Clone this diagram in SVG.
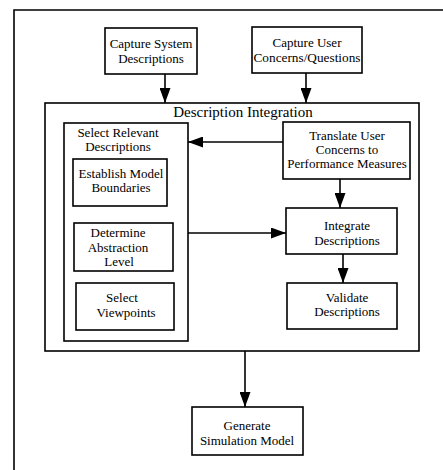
<svg xmlns="http://www.w3.org/2000/svg" width="443" height="470" viewBox="0 0 443 470">
  <defs>
    <style>
      .box { fill: #fff; stroke: #000; stroke-width: 1.6; }
      .frame { fill: none; stroke: #000; stroke-width: 1.6; }
      .t { font-family: "Liberation Serif", "Times New Roman", serif; font-size: 13px; fill: #000; text-anchor: middle; }
      .title { font-family: "Liberation Serif", "Times New Roman", serif; font-size: 15px; fill: #000; text-anchor: middle; }
      .conn { fill: none; stroke: #000; stroke-width: 1.6; marker-end: url(#arrow); }
    </style>
    <marker id="arrow" markerUnits="userSpaceOnUse" markerWidth="15" markerHeight="11" refX="15" refY="5.5" orient="auto">
      <path d="M0,0 L15,5.5 L0,11 z" fill="#000"/>
    </marker>
  </defs>
  <rect width="443" height="470" fill="#fff"/>
  <path class="frame" d="M14,470 L14,10 L443,10"/>

  <g id="capture-system">
    <rect class="box" x="105" y="28" width="92" height="46"/>
    <text class="t" x="151" y="48">Capture System</text>
    <text class="t" x="151" y="63">Descriptions</text>
  </g>
  <g id="capture-user">
    <rect class="box" x="252" y="27" width="110" height="46"/>
    <text class="t" x="307" y="47">Capture User</text>
    <text class="t" x="307" y="62" textLength="107" lengthAdjust="spacingAndGlyphs">Concerns/Questions</text>
  </g>
  <g id="description-integration">
    <rect class="box" x="45" y="103" width="374" height="248"/>
    <text class="title" x="243" y="117">Description Integration</text>
  </g>
  <g id="select-relevant">
    <rect class="box" x="64" y="123" width="124" height="218"/>
    <text class="t" x="118" y="137">Select Relevant</text>
    <text class="t" x="118" y="151">Descriptions</text>
  </g>
  <g id="establish-boundaries">
    <rect class="box" x="73" y="159" width="94" height="47"/>
    <text class="t" x="121" y="178">Establish Model</text>
    <text class="t" x="121" y="192">Boundaries</text>
  </g>
  <g id="determine-abstraction">
    <rect class="box" x="74" y="223" width="99" height="48"/>
    <text class="t" x="118" y="237">Determine</text>
    <text class="t" x="118" y="252">Abstraction</text>
    <text class="t" x="119" y="266">Level</text>
  </g>
  <g id="select-viewpoints">
    <rect class="box" x="76" y="283" width="98" height="47"/>
    <text class="t" x="122" y="302">Select</text>
    <text class="t" x="126" y="317">Viewpoints</text>
  </g>
  <g id="translate-concerns">
    <rect class="box" x="283" y="122" width="127" height="57"/>
    <text class="t" x="347" y="140">Translate User</text>
    <text class="t" x="347" y="154">Concerns to</text>
    <text class="t" x="347" y="168">Performance Measures</text>
  </g>
  <g id="integrate-descriptions">
    <rect class="box" x="286" y="208" width="111" height="46"/>
    <text class="t" x="347" y="230">Integrate</text>
    <text class="t" x="347" y="245">Descriptions</text>
  </g>
  <g id="validate-descriptions">
    <rect class="box" x="287" y="283" width="110" height="46"/>
    <text class="t" x="347" y="302">Validate</text>
    <text class="t" x="347" y="316">Descriptions</text>
  </g>
  <g id="generate-simulation">
    <rect class="box" x="192" y="407" width="111" height="48"/>
    <text class="t" x="247" y="430">Generate</text>
    <text class="t" x="247" y="445">Simulation Model</text>
  </g>

  <g id="connectors">
    <line class="conn" x1="165" y1="74" x2="165" y2="103"/>
    <line class="conn" x1="306" y1="73" x2="306" y2="103"/>
    <line class="conn" x1="283" y1="142" x2="188" y2="142"/>
    <line class="conn" x1="340" y1="179" x2="340" y2="208"/>
    <line class="conn" x1="188" y1="233" x2="286" y2="233"/>
    <line class="conn" x1="343" y1="254" x2="343" y2="283"/>
    <line class="conn" x1="245" y1="351" x2="245" y2="407"/>
  </g>
</svg>
